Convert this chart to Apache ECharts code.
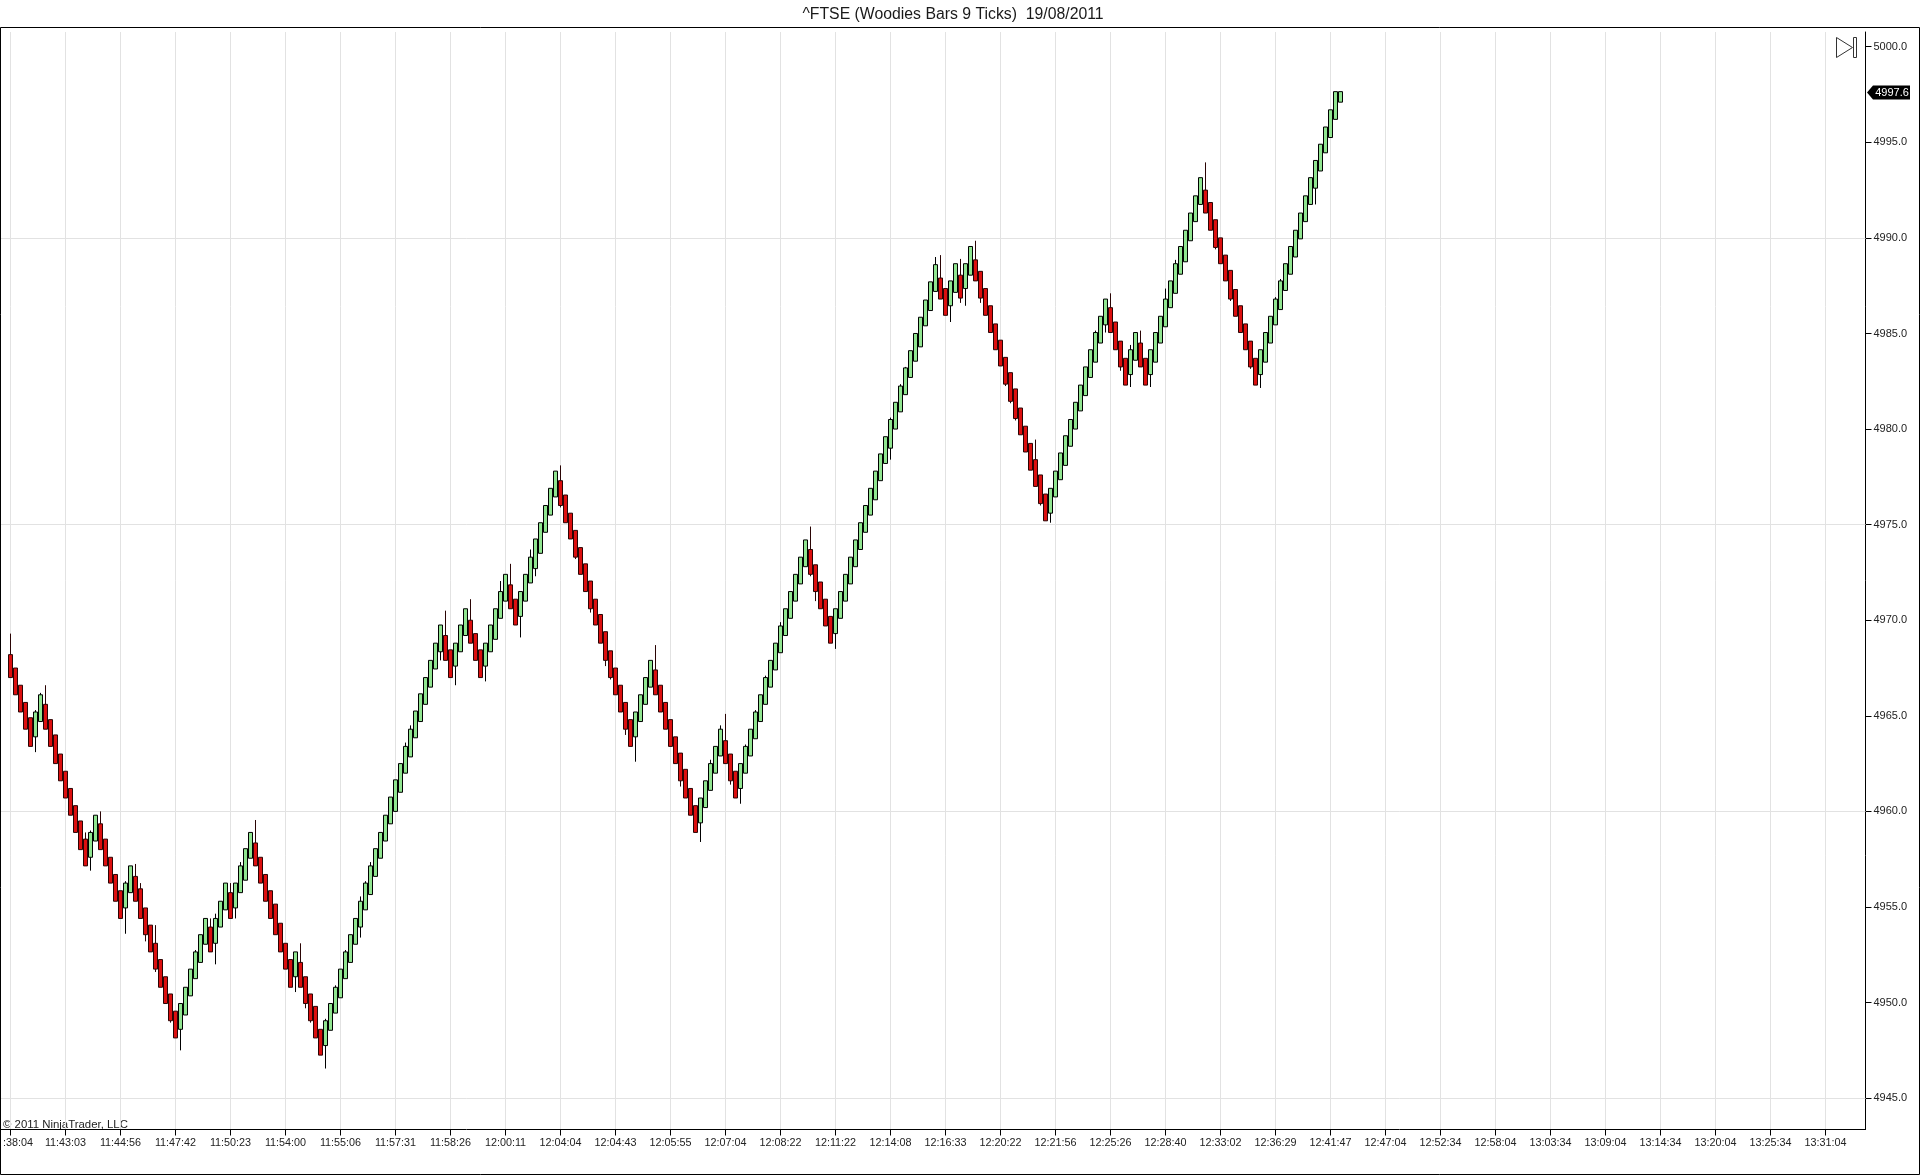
<!DOCTYPE html>
<html>
<head>
<meta charset="utf-8">
<style>html,body{margin:0;padding:0;background:#fff}#c{width:1920px;height:1175px}</style>
<script src="https://cdn.jsdelivr.net/npm/echarts@6/dist/echarts.min.js"></script>
</head>
<body>
<div id="c"></div>
<script>
const timeLabels = [':38:04','11:43:03','11:44:56','11:47:42','11:50:23','11:54:00','11:55:06','11:57:31','11:58:26','12:00:11','12:04:04','12:04:43','12:05:55','12:07:04','12:08:22','12:11:22','12:14:08','12:16:33','12:20:22','12:21:56','12:25:26','12:28:40','12:33:02','12:36:29','12:41:47','12:47:04','12:52:34','12:58:04','13:03:34','13:09:04','13:14:34','13:20:04','13:25:34','13:31:04'];
const priceTicks = [4945,4950,4955,4960,4965,4970,4975,4980,4985,4990,4995,5000];
const priceGridLines = [4945,4960,4975,4990];
const lastPrice = 4997.6;

const opens = [
4968.2,4967.5,4966.6,4965.7,4964.9,4963.9,4964.7,4965.6,4964.8,4964.0,
4963.0,4962.1,4961.2,4960.3,4959.5,4958.55,4957.6,4958.45,4959.35,4958.55,
4957.6,4956.7,4955.85,4954.95,4955.75,4956.6,4955.95,4954.95,4954.05,4953.1,
4952.25,4951.35,4950.45,4949.55,4948.6,4949.35,4950.35,4951.25,4952.1,4953.05,
4953.95,4953.1,4953.95,4954.85,4955.75,4954.95,4955.75,4956.4,4957.55,4958.35,
4957.6,4956.7,4955.85,4955.15,4954.15,4953.1,4952.25,4951.35,4952.1,4951.35,
4950.45,4949.8,4948.6,4947.75,4948.55,4949.45,4950.25,4951.25,4952.1,4953.05,
4953.95,4954.85,4955.65,4956.6,4957.55,4958.45,4959.35,4960.0,4961.0,4962.0,
4962.85,4963.85,4964.7,4965.6,4966.5,4967.45,4968.35,4969.2,4968.45,4967.6,
4968.35,4969.2,4970.0,4969.3,4968.45,4967.6,4968.35,4969.0,4970.1,4971.0,
4971.85,4971.1,4970.2,4971.0,4971.95,4972.7,4973.5,4974.6,4975.5,4976.45,
4977.3,4976.55,4975.6,4974.7,4973.8,4972.95,4972.05,4971.1,4970.3,4969.4,
4968.4,4967.5,4966.6,4965.7,4964.8,4963.9,4964.7,4965.6,4966.5,4967.4,
4966.6,4965.7,4964.8,4963.9,4963.05,4962.2,4961.2,4960.3,4959.4,4960.2,
4961.1,4962.0,4962.9,4963.7,4963.0,4962.1,4961.2,4962.0,4962.9,4963.8,
4964.7,4965.6,4966.5,4967.4,4968.3,4969.2,4970.1,4971.0,4971.9,4972.8,
4973.7,4972.9,4972.0,4971.1,4970.2,4969.3,4970.1,4971.0,4971.9,4972.8,
4973.7,4974.6,4975.5,4976.3,4977.3,4978.2,4979.0,4980.0,4980.9,4981.8,
4982.7,4983.55,4984.3,4985.4,4986.2,4987.2,4987.9,4987.35,4986.45,4987.15,
4988.05,4987.35,4988.05,4988.85,4988.25,4987.35,4986.45,4985.5,4984.65,4983.75,
4982.95,4982.1,4981.1,4980.15,4979.25,4978.4,4977.6,4976.6,4975.6,4976.45,
4977.35,4978.1,4979.1,4980.0,4980.95,4981.75,4982.7,4983.5,4984.5,4985.45,
4986.35,4985.6,4984.6,4983.7,4982.85,4983.6,4984.5,4983.7,4982.85,4983.5,
4984.5,4985.35,4986.35,4987.1,4988.1,4988.75,4989.85,4990.85,4991.75,4992.5,
4991.85,4990.95,4990.0,4989.1,4988.3,4987.3,4986.45,4985.5,4984.6,4983.7,
4982.85,4983.5,4984.5,4985.45,4986.25,4987.25,4988.1,4989.0,4989.95,4990.85,
4991.75,4992.6,4993.5,4994.45,4995.25,4996.2,4997.1];

const closes = [
4967.0,4966.1,4965.2,4964.3,4963.4,4965.2,4966.1,4964.3,4963.4,4962.5,
4961.6,4960.7,4959.8,4958.9,4958.0,4957.15,4958.9,4959.8,4958.0,4957.15,
4956.25,4955.3,4954.4,4956.25,4957.15,4955.3,4954.4,4953.55,4952.65,4951.75,
4950.8,4949.95,4949.05,4948.15,4949.95,4950.8,4951.75,4952.65,4953.55,4954.4,
4952.65,4954.4,4955.3,4956.25,4954.4,4956.25,4957.15,4958.05,4958.9,4957.15,
4956.25,4955.3,4954.4,4953.55,4952.65,4951.75,4950.8,4952.65,4950.8,4949.95,
4949.05,4948.15,4947.25,4949.05,4949.95,4950.8,4951.75,4952.65,4953.55,4954.4,
4955.3,4956.25,4957.15,4958.05,4958.9,4959.8,4960.75,4961.65,4962.5,4963.4,
4964.3,4965.25,4966.15,4967.0,4967.9,4968.8,4969.75,4967.9,4967.0,4968.8,
4969.75,4970.6,4968.8,4967.9,4967.0,4968.8,4969.75,4970.6,4971.5,4972.4,
4970.6,4969.75,4971.5,4972.4,4973.3,4974.25,4975.1,4976.0,4976.9,4977.8,
4976.0,4975.1,4974.25,4973.3,4972.4,4971.5,4970.6,4969.75,4968.8,4967.9,
4967.0,4966.1,4965.2,4964.3,4963.4,4965.2,4966.1,4967.0,4967.9,4966.1,
4965.2,4964.3,4963.4,4962.5,4961.6,4960.7,4959.8,4958.9,4960.7,4961.6,
4962.5,4963.4,4964.3,4962.5,4961.6,4960.7,4962.5,4963.4,4964.3,4965.2,
4966.1,4967.0,4967.9,4968.8,4969.7,4970.6,4971.5,4972.4,4973.3,4974.2,
4972.4,4971.5,4970.6,4969.7,4968.8,4970.6,4971.5,4972.4,4973.3,4974.2,
4975.1,4976.0,4976.9,4977.8,4978.7,4979.6,4980.5,4981.4,4982.25,4983.2,
4984.1,4985.0,4985.85,4986.75,4987.7,4988.6,4986.8,4985.95,4987.75,4988.65,
4986.85,4988.65,4989.55,4987.75,4986.85,4985.95,4985.05,4984.15,4983.3,4982.35,
4981.45,4980.55,4979.7,4978.8,4977.85,4977.0,4976.1,4975.2,4976.9,4977.8,
4978.75,4979.65,4980.5,4981.4,4982.3,4983.25,4984.15,4985.05,4985.9,4986.8,
4985.05,4984.15,4983.25,4982.3,4984.15,4985.05,4983.25,4982.3,4984.15,4985.05,
4985.9,4986.8,4987.75,4988.65,4989.55,4990.4,4991.3,4992.2,4993.15,4991.3,
4990.4,4989.5,4988.65,4987.75,4986.8,4985.9,4985.05,4984.15,4983.25,4982.3,
4984.15,4985.05,4985.9,4986.8,4987.75,4988.65,4989.55,4990.4,4991.3,4992.2,
4993.15,4994.05,4994.9,4995.8,4996.7,4997.65,4997.65];

// [bar number, wick end] for the bars whose wick shows past the body
const highWicks = [[0,4969.3],[5,4965.3],[6,4966.2],[7,4966.6],[15,4958.9],[16,4959.0],[18,4960.0],[23,4956.35],[25,4957.25],[26,4956.25],[29,4954.05],[37,4952.75],[40,4954.4],[41,4954.65],[44,4956.25],[46,4957.35],[49,4959.55],[58,4953.1],[63,4949.15],[65,4950.9],[67,4952.75],[70,4955.55],[71,4956.35],[72,4957.35],[79,4963.6],[80,4964.5],[87,4970.5],[92,4971.1],[98,4972.05],[100,4972.95],[104,4973.7],[110,4978.1],[129,4968.7],[140,4962.7],[142,4964.5],[143,4965.1],[147,4963.5],[149,4965.3],[151,4967.1],[154,4969.9],[160,4974.9],[176,4980.6],[178,4982.35],[179,4983.25],[185,4989.0],[186,4989.1],[190,4988.9],[193,4989.85],[205,4979.45],[217,4985.15],[220,4987.1],[224,4984.4],[226,4985.15],[231,4987.35],[233,4988.85],[239,4993.95],[253,4986.9],[254,4987.85]];
const lowWicks = [[5,4963.1],[16,4956.9],[23,4953.6],[27,4953.2],[29,4951.6],[32,4948.95],[34,4947.5],[41,4952.0],[45,4954.4],[57,4950.55],[59,4949.7],[60,4948.95],[63,4946.55],[70,4953.4],[86,4967.9],[89,4966.6],[95,4966.8],[102,4969.1],[105,4972.3],[110,4975.9],[113,4973.2],[116,4970.4],[119,4967.6],[120,4966.9],[123,4964.0],[125,4962.6],[134,4961.3],[138,4958.4],[144,4961.4],[146,4960.4],[160,4972.3],[161,4971.0],[165,4968.5],[176,4978.4],[188,4985.6],[190,4986.6],[191,4986.45],[194,4986.6],[199,4982.25],[200,4981.35],[201,4980.45],[206,4976.0],[208,4975.1],[219,4985.05],[222,4983.05],[224,4982.2],[228,4982.2],[241,4989.4],[244,4986.7],[248,4983.15],[250,4982.15],[261,4991.75]];

const LEAD = 2, EVERY = 11, SLOTS = 374;
const categories = [];
for (let i = 0; i < SLOTS; i++) {
  const k = (i - LEAD) / EVERY;
  categories.push(Number.isInteger(k) && timeLabels[k] ? timeLabels[k] : '');
}
const highMap = new Map(highWicks), lowMap = new Map(lowWicks);
const candles = opens.map((o, i) => {
  const c = closes[i];
  return [i + LEAD, o, c, lowMap.has(i) ? lowMap.get(i) : Math.min(o, c), highMap.has(i) ? highMap.get(i) : Math.max(o, c)];
});
const isLabelled = (idx, val) => val !== '';
const FONT = '"Liberation Sans", Arial, sans-serif';

const chart = echarts.init(document.getElementById('c'), null, {renderer: 'canvas'});
chart.setOption({
  animation: false,
  backgroundColor: '#fff',
  title: {
    text: '^FTSE (Woodies Bars 9 Ticks)  19/08/2011',
    left: 948, top: 2, textAlign: 'center',
    textStyle: {fontFamily: FONT, fontSize: 15.8, fontWeight: 'normal', color: '#1a1a1a'}
  },
  grid: {left: 0.5, right: 54.5, top: 32, bottom: 45.5},
  xAxis: {
    type: 'category', boundaryGap: false, data: categories,
    axisLine: {lineStyle: {color: '#000', width: 1}},
    axisTick: {show: true, length: 6, interval: isLabelled, lineStyle: {color: '#000'}},
    axisLabel: {
      interval: isLabelled, margin: 8, fontFamily: FONT, fontSize: 10.8, color: '#222', hideOverlap: false,
      formatter: v => v === timeLabels[0] ? '{first|' + v + '}' : v,
      rich: {first: {padding: [0, 0, 0, 15], fontFamily: FONT, fontSize: 10.8, color: '#222'}}
    },
    splitLine: {show: true, interval: isLabelled, lineStyle: {color: '#e2e2e2', width: 1}}
  },
  yAxis: {
    type: 'value', position: 'right', scale: true, min: 4943.36, max: 5000.77, splitNumber: 11,
    axisLine: {show: true, lineStyle: {color: '#000', width: 1}},
    axisTick: {show: true, length: 6, customValues: priceTicks, lineStyle: {color: '#000'}},
    axisLabel: {margin: 8, customValues: priceTicks, fontFamily: FONT, fontSize: 11, color: '#222', formatter: v => v.toFixed(1)},
    splitLine: {show: false}
  },
  series: [
    {
      type: 'candlestick', data: candles, barWidth: 4, clip: false, z: 3,
      encode: {x: 0, y: [1, 2, 3, 4]},
      itemStyle: {color: '#90e590', color0: '#dc0f0f', borderColor: '#000', borderColor0: '#2a0404', borderWidth: 1},
      markLine: {
        silent: true, symbol: 'none', z: 1, label: {show: false}, animation: false,
        lineStyle: {color: '#e2e2e2', width: 1, type: 'solid'},
        data: priceGridLines.map(v => ({yAxis: v}))
      }
    },
    {
      type: 'custom', clip: false, silent: true, z: 10, data: [[SLOTS - 1, lastPrice]],
      encode: {x: 0, y: 1},
      renderItem(params, api) {
        const y = api.coord([api.value(0), api.value(1)])[1];
        const x0 = params.coordSys.x + params.coordSys.width + 1.5;
        return {type: 'group', children: [
          {type: 'polygon', shape: {points: [[x0, y], [x0 + 6, y - 7], [x0 + 43, y - 7], [x0 + 43, y + 7], [x0 + 6, y + 7]]}, style: {fill: '#000'}},
          {type: 'text', style: {x: x0 + 25, y: y, text: api.value(1).toFixed(1), fill: '#fff', font: '11px ' + FONT, textAlign: 'center', verticalAlign: 'middle', textVerticalAlign: 'middle'}}
        ]};
      }
    }
  ],
  graphic: [
    {type: 'rect', silent: true, shape: {x: 0.5, y: 27.5, width: 1919, height: 1147}, style: {fill: 'none', stroke: '#000', lineWidth: 1}, z: 20},
    {type: 'polygon', silent: true, shape: {points: [[1836.5, 37.5], [1852.5, 47.5], [1836.5, 57.5]]}, style: {fill: 'none', stroke: '#333', lineWidth: 1}},
    {type: 'rect', silent: true, shape: {x: 1853.5, y: 37.5, width: 3, height: 20}, style: {fill: 'none', stroke: '#333', lineWidth: 1}},
    {type: 'text', silent: true, style: {x: 3, y: 1124.5, text: '© 2011 NinjaTrader, LLC', fill: '#222', font: '11.4px ' + FONT, verticalAlign: 'middle', textVerticalAlign: 'middle'}}
  ]
});
</script>
</body>
</html>
